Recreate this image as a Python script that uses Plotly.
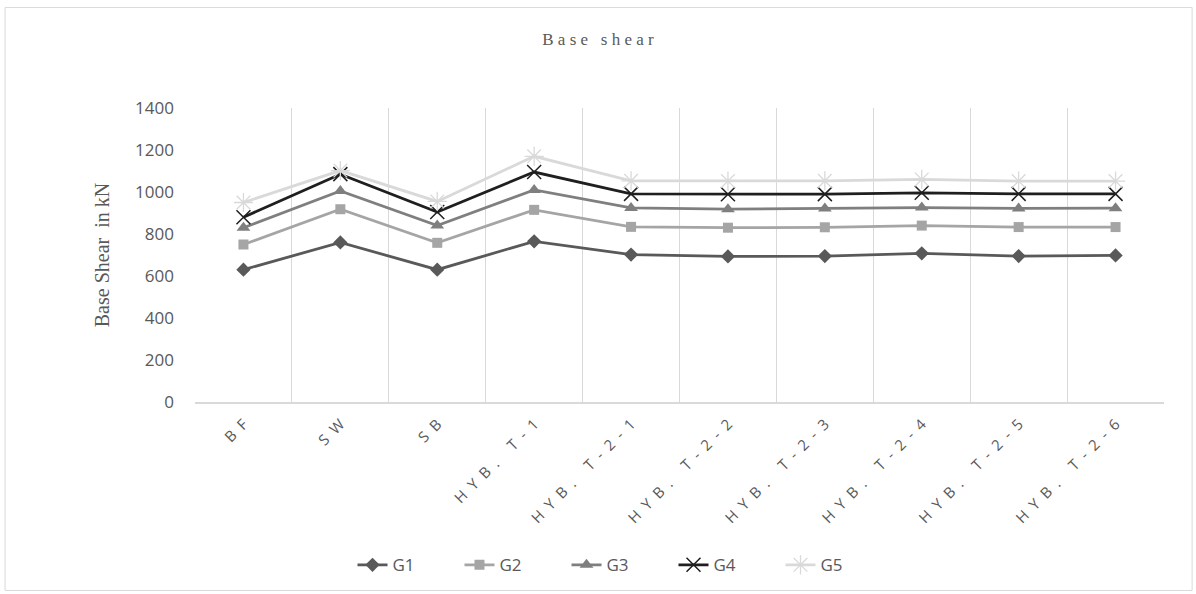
import plotly.graph_objects as go

# Structural configurations along the x axis
categories = ["BF", "SW", "SB", "HYB. T-1", "HYB. T-2-1", "HYB. T-2-2",
              "HYB. T-2-3", "HYB. T-2-4", "HYB. T-2-5", "HYB. T-2-6"]

# Base shear (kN) for each ground-motion group
g1 = [630, 760, 630, 765, 702, 693, 695, 708, 695, 698]
g2 = [750, 918, 758, 915, 834, 830, 832, 840, 833, 833]
g3 = [830, 1005, 840, 1010, 924, 918, 922, 926, 922, 923]
g4 = [880, 1085, 905, 1095, 991, 989, 990, 996, 991, 991]
g5 = [950, 1102, 955, 1170, 1053, 1052, 1053, 1060, 1052, 1052]

y_ticks = [0, 200, 400, 600, 800, 1000, 1200, 1400]

series = [
    ("G1", g1, "#595959", dict(symbol="diamond", size=11, color="#595959")),
    ("G2", g2, "#A5A5A5", dict(symbol="square", size=10, color="#A5A5A5")),
    ("G3", g3, "#7F7F7F", dict(symbol="triangle-up", size=12, color="#7F7F7F")),
    ("G4", g4, "#1F1F1F", dict(symbol="x-thin-open", size=14,
                              line=dict(color="#1F1F1F", width=1.5))),
    ("G5", g5, "#D9D9D9", dict(symbol="asterisk-open", size=16,
                              line=dict(color="#D0D0D0", width=1.3))),
]

fig = go.Figure()
for name, vals, col, mk in series:
    fig.add_trace(go.Scatter(
        x=categories, y=vals, name=name, mode="lines+markers",
        line=dict(color=col, width=2.8), marker=mk,
    ))

# letter-spaced category labels
tick_text = ["\u2002".join(c) for c in categories]

fig.update_layout(
    width=1196, height=594,
    margin=dict(l=195, r=32, t=108, b=191),
    paper_bgcolor="white", plot_bgcolor="white",
    showlegend=True,
    title=dict(text="B a s e   s h e a r", x=0.5, xref="container",
               y=0.935, yref="container", yanchor="middle",
               font=dict(family="Liberation Serif", size=17, color="#595959")),
    legend=dict(orientation="h", x=0.4386, xanchor="center",
                y=-0.55, yanchor="middle",
                font=dict(family="Open Sans", size=17, color="#595959"),
                itemwidth=30, entrywidth=62, tracegroupgap=0),
    shapes=[dict(type="rect", xref="paper", yref="paper",
                 x0=-0.196, x1=1.029, y0=-0.641, y1=1.342,
                 line=dict(color="#D9D9D9", width=1), layer="below")],
)

fig.update_xaxes(
    type="category", range=[-0.5, 9.5],
    tickmode="array", tickvals=categories, ticktext=tick_text,
    tickangle=-45, tickson="boundaries", ticks="",
    ticklabelstandoff=6,
    showgrid=True, gridcolor="#D9D9D9", gridwidth=1,
    showline=True, linecolor="#D9D9D9", linewidth=1.5,
    tickfont=dict(family="Open Sans", size=15, color="#595959"),
)

fig.update_yaxes(
    range=[0, 1400], tickmode="array", tickvals=y_ticks,
    showgrid=False, zeroline=False, showline=False, ticks="",
    ticklabelstandoff=20,
    tickfont=dict(family="Open Sans", size=17, color="#595959"),
    title=dict(text="Base Shear  in kN", standoff=20,
               font=dict(family="Liberation Serif", size=20, color="#595959")),
)

fig.write_html("out.html")
